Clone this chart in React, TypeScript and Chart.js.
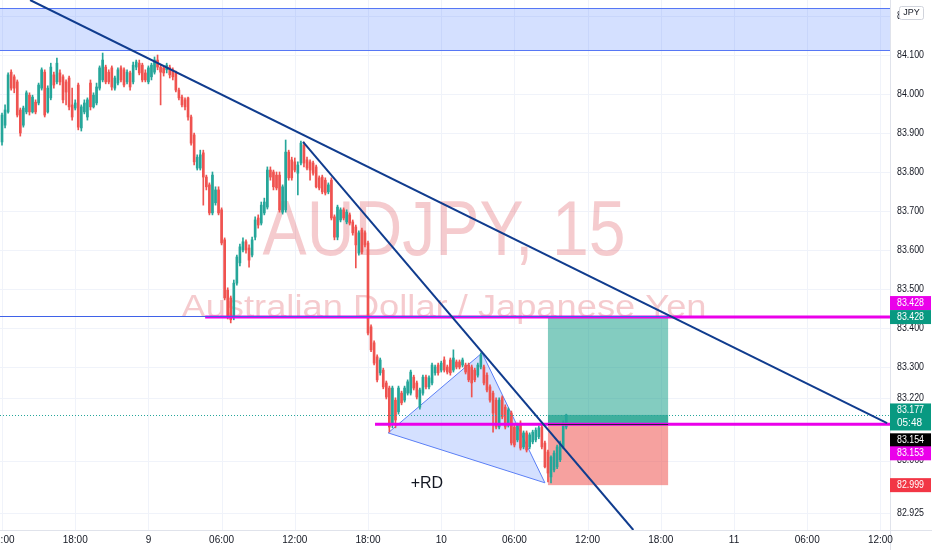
import React, { useEffect, useRef } from "react";
import { Chart, registerables } from "chart.js";

Chart.register(...registerables);

// ---- 15-minute AUDJPY candles (index 0 = day 8, 12:00) ----
const OPEN = [
  83.877, 83.920, 83.954, 84.056, 84.044, 84.031, 83.959, 83.920, 83.954, 83.997,
  83.954, 83.979, 83.977, 84.015, 84.056, 83.954, 83.990, 84.049, 84.031, 84.054,
  84.044, 84.031, 84.041, 83.972, 83.964, 84.023, 83.913, 83.954, 83.941, 84.028,
  83.967, 83.977, 84.015, 84.036, 84.069, 84.056, 84.067, 84.015, 84.028, 84.067,
  84.062, 84.031, 84.054, 84.031, 84.069, 84.079, 84.074, 84.054, 84.031, 84.044,
  84.056, 84.087, 84.069, 84.067, 84.062, 84.069, 84.062, 84.054, 84.010, 83.992,
  83.985, 83.990, 83.941, 83.895, 83.810, 83.810, 83.849, 83.787, 83.767, 83.695,
  83.721, 83.754, 83.703, 83.626, 83.497, 83.477, 83.428, 83.515, 83.567, 83.600,
  83.621, 83.605, 83.587, 83.633, 83.682, 83.669, 83.695, 83.710, 83.805, 83.800,
  83.792, 83.792, 83.697, 83.703, 83.851, 83.831, 83.826, 83.797, 83.823, 83.869,
  83.831, 83.826, 83.823, 83.813, 83.785, 83.787, 83.779, 83.749, 83.779, 83.685,
  83.633, 83.677, 83.703, 83.672, 83.690, 83.672, 83.659, 83.592, 83.651, 83.644,
  83.618, 83.403, 83.362, 83.326, 83.285, 83.292, 83.259, 83.246, 83.156, 83.215,
  83.185, 83.233, 83.215, 83.233, 83.233, 83.274, 83.259, 83.197, 83.233, 83.274,
  83.249, 83.259, 83.285, 83.305, 83.292, 83.318, 83.300, 83.318, 83.292, 83.313,
  83.313, 83.305, 83.305, 83.305, 83.300, 83.292, 83.279, 83.300, 83.300, 83.279,
  83.249, 83.233, 83.215, 83.146, 83.221, 83.197, 83.151, 83.182, 83.146, 83.113,
  83.156, 83.095, 83.131, 83.095, 83.108, 83.113, 83.121, 83.146, 83.105, 83.082,
  83.018, 83.036, 83.044, 83.062, 83.095, 83.146,
];
const HIGH = [
  83.951, 83.972, 84.054, 84.062, 84.049, 84.036, 83.964, 83.969, 84.008, 84.003,
  83.997, 83.985, 84.028, 84.067, 84.062, 84.021, 84.079, 84.056, 84.092, 84.062,
  84.049, 84.036, 84.046, 84.015, 83.985, 84.028, 83.972, 83.985, 83.990, 84.036,
  84.003, 84.028, 84.072, 84.105, 84.074, 84.062, 84.072, 84.046, 84.067, 84.072,
  84.067, 84.062, 84.059, 84.082, 84.087, 84.087, 84.079, 84.062, 84.072, 84.079,
  84.095, 84.100, 84.074, 84.072, 84.079, 84.074, 84.067, 84.059, 84.015, 83.997,
  83.990, 83.992, 83.946, 83.900, 83.844, 83.856, 83.856, 83.792, 83.772, 83.800,
  83.762, 83.762, 83.708, 83.631, 83.503, 83.482, 83.523, 83.587, 83.615, 83.631,
  83.626, 83.613, 83.633, 83.685, 83.690, 83.723, 83.733, 83.813, 83.813, 83.805,
  83.800, 83.800, 83.767, 83.882, 83.856, 83.838, 83.836, 83.826, 83.879, 83.877,
  83.838, 83.831, 83.828, 83.818, 83.790, 83.792, 83.785, 83.772, 83.785, 83.690,
  83.715, 83.708, 83.708, 83.703, 83.695, 83.677, 83.664, 83.649, 83.656, 83.649,
  83.623, 83.408, 83.367, 83.331, 83.323, 83.297, 83.264, 83.251, 83.251, 83.221,
  83.251, 83.238, 83.251, 83.267, 83.292, 83.279, 83.264, 83.246, 83.279, 83.279,
  83.277, 83.310, 83.305, 83.310, 83.315, 83.326, 83.305, 83.323, 83.344, 83.318,
  83.318, 83.323, 83.310, 83.310, 83.305, 83.297, 83.310, 83.336, 83.305, 83.285,
  83.254, 83.238, 83.221, 83.221, 83.226, 83.203, 83.195, 83.187, 83.151, 83.156,
  83.162, 83.136, 83.136, 83.131, 83.138, 83.144, 83.149, 83.151, 83.110, 83.087,
  83.072, 83.085, 83.100, 83.110, 83.162, 83.179,
];
const LOW = [
  83.869, 83.913, 83.951, 84.010, 84.003, 83.941, 83.892, 83.915, 83.949, 83.946,
  83.951, 83.949, 83.972, 84.010, 83.941, 83.951, 83.985, 84.015, 84.026, 84.023,
  83.977, 83.972, 83.959, 83.933, 83.959, 83.908, 83.905, 83.949, 83.933, 83.959,
  83.964, 83.972, 84.010, 84.031, 84.026, 84.026, 84.010, 84.010, 84.023, 84.031,
  84.018, 84.026, 84.010, 84.026, 84.062, 84.049, 84.031, 84.031, 84.026, 84.036,
  84.051, 84.062, 83.972, 84.046, 84.054, 84.041, 84.036, 84.005, 83.985, 83.967,
  83.959, 83.933, 83.869, 83.818, 83.805, 83.805, 83.715, 83.754, 83.690, 83.690,
  83.715, 83.690, 83.613, 83.472, 83.423, 83.413, 83.421, 83.510, 83.559, 83.595,
  83.592, 83.556, 83.582, 83.626, 83.656, 83.664, 83.690, 83.705, 83.779, 83.754,
  83.754, 83.697, 83.692, 83.697, 83.779, 83.779, 83.800, 83.741, 83.818, 83.813,
  83.805, 83.779, 83.792, 83.759, 83.754, 83.744, 83.741, 83.744, 83.677, 83.626,
  83.626, 83.672, 83.677, 83.667, 83.664, 83.638, 83.554, 83.587, 83.590, 83.608,
  83.382, 83.339, 83.305, 83.262, 83.279, 83.244, 83.218, 83.133, 83.144, 83.144,
  83.179, 83.203, 83.210, 83.228, 83.228, 83.241, 83.218, 83.192, 83.228, 83.244,
  83.244, 83.254, 83.279, 83.279, 83.287, 83.287, 83.282, 83.279, 83.287, 83.295,
  83.295, 83.300, 83.282, 83.262, 83.223, 83.262, 83.274, 83.295, 83.254, 83.236,
  83.210, 83.133, 83.141, 83.141, 83.167, 83.141, 83.146, 83.100, 83.095, 83.108,
  83.087, 83.090, 83.082, 83.090, 83.103, 83.108, 83.116, 83.090, 83.041, 83.005,
  83.003, 83.031, 83.039, 83.057, 83.090, 83.141,
];
const CLOSE = [
  83.946, 83.959, 84.049, 84.015, 84.015, 83.946, 83.900, 83.964, 84.003, 83.954,
  83.992, 83.954, 84.023, 84.062, 83.946, 84.015, 84.069, 84.023, 84.079, 84.031,
  83.985, 84.005, 83.967, 83.941, 83.977, 83.915, 83.967, 83.977, 83.985, 83.967,
  83.997, 84.018, 84.067, 84.087, 84.031, 84.031, 84.018, 84.041, 84.062, 84.036,
  84.023, 84.056, 84.018, 84.074, 84.082, 84.054, 84.036, 84.036, 84.067, 84.074,
  84.087, 84.069, 84.056, 84.054, 84.074, 84.049, 84.044, 84.010, 83.990, 83.972,
  83.967, 83.941, 83.874, 83.826, 83.838, 83.844, 83.787, 83.762, 83.695, 83.792,
  83.754, 83.695, 83.618, 83.477, 83.428, 83.421, 83.515, 83.582, 83.608, 83.621,
  83.600, 83.574, 83.626, 83.677, 83.664, 83.715, 83.723, 83.805, 83.787, 83.762,
  83.759, 83.703, 83.762, 83.851, 83.785, 83.785, 83.805, 83.818, 83.874, 83.823,
  83.810, 83.805, 83.797, 83.762, 83.759, 83.749, 83.746, 83.767, 83.682, 83.633,
  83.710, 83.703, 83.682, 83.697, 83.669, 83.644, 83.613, 83.644, 83.595, 83.613,
  83.387, 83.344, 83.310, 83.267, 83.318, 83.249, 83.223, 83.146, 83.246, 83.164,
  83.246, 83.208, 83.246, 83.262, 83.287, 83.246, 83.223, 83.241, 83.274, 83.249,
  83.272, 83.305, 83.300, 83.285, 83.310, 83.292, 83.287, 83.285, 83.323, 83.300,
  83.300, 83.318, 83.287, 83.267, 83.259, 83.267, 83.305, 83.331, 83.259, 83.241,
  83.215, 83.182, 83.146, 83.215, 83.172, 83.146, 83.190, 83.105, 83.100, 83.151,
  83.092, 83.131, 83.087, 83.126, 83.133, 83.138, 83.144, 83.095, 83.044, 83.028,
  83.069, 83.079, 83.095, 83.105, 83.156, 83.177,
];

// ---- time axis (one label every 24 bars = 6 hours) ----
const TIME_LABELS = ["12:00", "18:00", "9", "06:00", "12:00", "18:00", "10", "06:00", "12:00", "18:00", "11", "06:00", "12:00"];
const TIME_STEP = 24;

// ---- price axis ----
const PRICE_TICKS = [84.2, 84.1, 84.0, 83.9, 83.8, 83.7, 83.6, 83.5, 83.4, 83.3, 83.22, 83.06, 82.925];
const PRICE_TICK_LABELS = ["84.200", "84.100", "84.000", "83.900", "83.800", "83.700", "83.600", "83.500", "83.400", "83.300", "83.220", "83.060", "82.925"];

const X_RANGE = [-0.66, 291.15];
const Y_RANGE = [82.882, 84.241];

// ---- drawings (bar index, price) ----
const RESISTANCE_ZONE = [84.1128, 84.2205];
const TRENDLINE_A = [[9.2, 84.241], [290.2, 83.156]];
const TRENDLINE_B = [[98.7, 83.877], [207.0, 82.882]];
const RD_TRIANGLE = [[126.6, 83.131], [157.4, 83.336], [178.0, 83.003]];
const RD_LABEL = "+RD";
const RD_LABEL_AT = [139.3, 82.99];
const POSITION_SPAN = [179.0, 218.4];
const TARGET = 83.428;
const ENTRY = 83.153;
const STOP = 82.997;
const LAST_PRICE = 83.177;
const TOP_LEVEL_FROM = 66.6;
const ENTRY_LEVEL_FROM = 122.3;
const BLUE_LEVEL = 83.432;

const UP = "#26a69a";
const DOWN = "#ef5350";
const MAGENTA = "#ea00ea";
const FONT = "'Liberation Sans', Arial, sans-serif";

function fitText(ctx: CanvasRenderingContext2D, text: string, cx: number, base: number, font: string, width: number) {
  ctx.font = font;
  const w = ctx.measureText(text).width;
  ctx.save();
  ctx.translate(cx, base);
  ctx.scale(width / w, 1);
  ctx.textAlign = "center";
  ctx.textBaseline = "alphabetic";
  ctx.fillText(text, 0, 0);
  ctx.restore();
}

const drawings = {
  id: "tvDrawings",
  beforeDatasetsDraw(chart: any) {
    const { ctx, chartArea: a, scales } = chart;
    const x = scales.x, y = scales.y;
    const px = (v: number) => x.getPixelForValue(v);
    const py = (v: number) => y.getPixelForValue(v);
    ctx.save();
    ctx.beginPath();
    ctx.rect(a.left, a.top, a.right - a.left, a.bottom - a.top);
    ctx.clip();

    // grid
    ctx.strokeStyle = "#f0f3fa";
    ctx.lineWidth = 1;
    TIME_LABELS.forEach((_, k) => {
      const gx = Math.round(px(k * TIME_STEP)) + 0.5;
      ctx.beginPath(); ctx.moveTo(gx, a.top); ctx.lineTo(gx, a.bottom); ctx.stroke();
    });
    PRICE_TICKS.forEach((p) => {
      const gy = Math.round(py(p)) + 0.5;
      ctx.beginPath(); ctx.moveTo(a.left, gy); ctx.lineTo(a.right, gy); ctx.stroke();
    });

    // watermark
    const cx = (a.left + a.right) / 2 - 1;
    const cy = (a.top + a.bottom) / 2;
    ctx.fillStyle = "rgba(220,70,80,0.28)";
    fitText(ctx, "AUDJPY, 15", cx, cy - 10, `77px ${FONT}`, 363);
    fitText(ctx, "Australian Dollar / Japanese Yen", cx, cy + 52, `31px ${FONT}`, 525);

    // resistance zone
    const zt = py(RESISTANCE_ZONE[1]), zb = py(RESISTANCE_ZONE[0]);
    ctx.fillStyle = "rgba(41,98,255,0.2)";
    ctx.fillRect(a.left, zt, a.right - a.left, zb - zt);
    ctx.strokeStyle = "#5677f5";
    ctx.beginPath();
    ctx.moveTo(a.left, Math.round(zt) + 0.5); ctx.lineTo(a.right, Math.round(zt) + 0.5);
    ctx.moveTo(a.left, Math.round(zb) + 0.5); ctx.lineTo(a.right, Math.round(zb) + 0.5);
    ctx.stroke();

    // long position
    const bx0 = px(POSITION_SPAN[0]), bx1 = px(POSITION_SPAN[1]);
    ctx.fillStyle = "rgba(8,153,129,0.5)";
    ctx.fillRect(bx0, py(TARGET), bx1 - bx0, py(ENTRY) - py(TARGET));
    ctx.fillStyle = "rgba(8,153,129,0.55)";
    ctx.fillRect(bx0, py(LAST_PRICE), bx1 - bx0, py(ENTRY) - py(LAST_PRICE));
    ctx.fillStyle = "rgba(239,83,80,0.55)";
    ctx.fillRect(bx0, py(ENTRY), bx1 - bx0, py(STOP) - py(ENTRY));

    // RD triangle
    ctx.beginPath();
    RD_TRIANGLE.forEach(([i, p], k) => (k ? ctx.lineTo(px(i), py(p)) : ctx.moveTo(px(i), py(p))));
    ctx.closePath();
    ctx.fillStyle = "rgba(41,98,255,0.2)";
    ctx.fill();
    ctx.strokeStyle = "#5b7ff5";
    ctx.lineWidth = 1;
    ctx.stroke();
    ctx.restore();
  },
  afterDatasetsDraw(chart: any) {
    const { ctx, chartArea: a, scales } = chart;
    const x = scales.x, y = scales.y;
    const px = (v: number) => x.getPixelForValue(v);
    const py = (v: number) => y.getPixelForValue(v);
    ctx.save();
    ctx.beginPath();
    ctx.rect(a.left, a.top, a.right - a.left, a.bottom - a.top);
    ctx.clip();

    // last price dotted line
    ctx.strokeStyle = "#26a69a";
    ctx.lineWidth = 1;
    ctx.setLineDash([1, 2]);
    const ly = Math.round(py(LAST_PRICE)) + 0.5;
    ctx.beginPath(); ctx.moveTo(a.left, ly); ctx.lineTo(a.right, ly); ctx.stroke();
    ctx.setLineDash([]);

    // magenta levels
    ctx.strokeStyle = MAGENTA;
    ctx.lineWidth = 3;
    ctx.beginPath();
    ctx.moveTo(px(TOP_LEVEL_FROM), py(TARGET)); ctx.lineTo(a.right, py(TARGET));
    ctx.moveTo(px(ENTRY_LEVEL_FROM), py(ENTRY)); ctx.lineTo(a.right, py(ENTRY));
    ctx.stroke();

    // thin blue horizontal level
    ctx.strokeStyle = "#3f62e8";
    ctx.lineWidth = 1;
    const by = Math.round(py(BLUE_LEVEL)) + 0.5;
    ctx.beginPath(); ctx.moveTo(a.left, by); ctx.lineTo(px(POSITION_SPAN[1]), by); ctx.stroke();

    // entry line of the position
    ctx.strokeStyle = "#2a2340";
    ctx.beginPath();
    ctx.moveTo(px(POSITION_SPAN[0]), Math.round(py(ENTRY)) + 0.5);
    ctx.lineTo(px(POSITION_SPAN[1]), Math.round(py(ENTRY)) + 0.5);
    ctx.stroke();

    // trend lines
    ctx.strokeStyle = "#103c8e";
    ctx.lineWidth = 2;
    [TRENDLINE_A, TRENDLINE_B].forEach(([p0, p1]) => {
      ctx.beginPath();
      ctx.moveTo(px(p0[0]), py(p0[1]));
      ctx.lineTo(px(p1[0]), py(p1[1]));
      ctx.stroke();
    });

    // +RD label
    ctx.fillStyle = "#131722";
    ctx.font = `16px ${FONT}`;
    ctx.textAlign = "center";
    ctx.textBaseline = "alphabetic";
    ctx.fillText(RD_LABEL, px(RD_LABEL_AT[0]), py(RD_LABEL_AT[1]));
    ctx.restore();
  },
  afterDraw(chart: any) {
    const { ctx, chartArea: a, scales, width, height } = chart;
    const x = scales.x, y = scales.y;
    const px = (v: number) => x.getPixelForValue(v);
    const py = (v: number) => y.getPixelForValue(v);
    ctx.save();

    // axis borders
    ctx.strokeStyle = "#e0e3eb";
    ctx.lineWidth = 1;
    ctx.beginPath();
    ctx.moveTo(a.right + 0.5, 0); ctx.lineTo(a.right + 0.5, height);
    ctx.moveTo(0, a.bottom + 0.5); ctx.lineTo(width, a.bottom + 0.5);
    ctx.stroke();

    // price tick labels
    ctx.fillStyle = "#131722";
    ctx.font = `10px ${FONT}`;
    ctx.textAlign = "left";
    ctx.textBaseline = "middle";
    PRICE_TICKS.forEach((p, k) => ctx.fillText(PRICE_TICK_LABELS[k], a.right + 7, py(p), 27));

    // time labels
    ctx.textAlign = "center";
    TIME_LABELS.forEach((t, k) => ctx.fillText(t, px(k * TIME_STEP), a.bottom + 10));

    // coloured price labels
    const tag = (lines: string[], price: number, bg: string, dy: number) => {
      const h = lines.length === 1 ? 14 : 27;
      const cy = py(price) + dy;
      ctx.fillStyle = bg;
      ctx.fillRect(a.right, cy - h / 2, width - a.right - 1, h);
      ctx.fillStyle = "#ffffff";
      ctx.textAlign = "left";
      ctx.textBaseline = "middle";
      ctx.font = `10px ${FONT}`;
      lines.forEach((s, k) => ctx.fillText(s, a.right + 7, cy - (h / 2) + 7 + k * 13, 27));
    };
    tag([TARGET.toFixed(3)], TARGET, MAGENTA, -14);
    tag([TARGET.toFixed(3)], TARGET, "#089981", 0);
    tag([LAST_PRICE.toFixed(3), "05:48"], LAST_PRICE, "#089981", 2);
    tag(["83.154"], ENTRY, "#000000", 16);
    tag([ENTRY.toFixed(3)], ENTRY, MAGENTA, 29);
    tag(["82.999"], STOP, "#f23645", 0);

    // currency badge
    ctx.fillStyle = "#ffffff";
    ctx.strokeStyle = "#d1d4dc";
    ctx.beginPath();
    ctx.roundRect(899.5, 6.5, 24, 13, 2);
    ctx.fill();
    ctx.stroke();
    ctx.fillStyle = "#131722";
    ctx.font = `9px ${FONT}`;
    ctx.textAlign = "center";
    ctx.textBaseline = "middle";
    ctx.fillText("JPY", 911.5, 13);
    ctx.restore();
  },
};

export default function App() {
  const ref = useRef<HTMLCanvasElement>(null);
  useEffect(() => {
    const idx = OPEN.map((_, i) => i);
    const colors = idx.map((i) => (CLOSE[i] >= OPEN[i] ? UP : DOWN));
    const chart = new Chart(ref.current as HTMLCanvasElement, {
      type: "bar",
      data: {
        datasets: [
          {
            data: idx.map((i) => ({ x: i, y: [LOW[i], HIGH[i]] })) as any,
            backgroundColor: colors,
            borderWidth: 0,
            barThickness: 1,
            grouped: false,
          } as any,
          {
            data: idx.map((i) => ({ x: i, y: [Math.min(OPEN[i], CLOSE[i]), Math.max(OPEN[i], CLOSE[i])] })) as any,
            backgroundColor: colors,
            borderWidth: 0,
            barThickness: 2,
            minBarLength: 1,
            grouped: false,
          } as any,
        ],
      },
      options: {
        animation: false,
        responsive: false,
        maintainAspectRatio: false,
        events: [],
        layout: { padding: { left: 0, top: 0, right: 42, bottom: 20 } },
        plugins: { legend: { display: false }, tooltip: { enabled: false } },
        scales: {
          x: { type: "linear", offset: false, grid: { offset: false }, min: X_RANGE[0], max: X_RANGE[1], display: false },
          y: { type: "linear", min: Y_RANGE[0], max: Y_RANGE[1], display: false },
        },
      } as any,
      plugins: [drawings as any],
    });
    return () => chart.destroy();
  }, []);
  return (
    <div style={{ position: "fixed", left: 0, top: 0, width: 932, height: 550, background: "#ffffff" }}>
      <canvas ref={ref} width={932} height={550} style={{ width: 932, height: 550, display: "block" }} />
    </div>
  );
}
